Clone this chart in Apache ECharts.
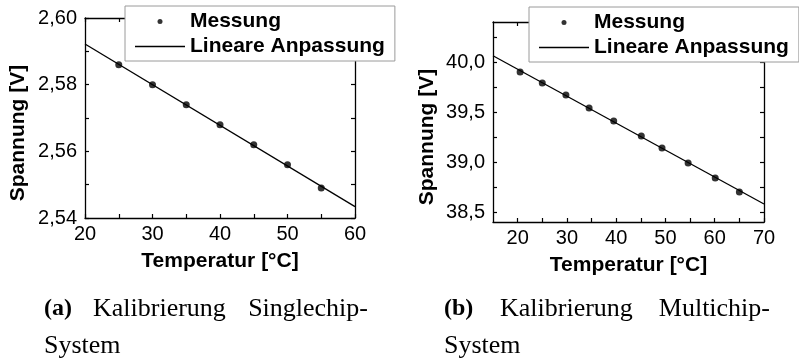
<!DOCTYPE html>
<html>
<head>
<meta charset="utf-8">
<script src="https://cdn.jsdelivr.net/npm/echarts@6/dist/echarts.min.js"></script>
<style>
  html, body { margin: 0; padding: 0; background: #fff; }
  #chart { width: 799px; height: 361px; }
</style>
</head>
<body>
<div id="chart"></div>
<script>
// Singlechip-System: measured points and the fitted line (end points)
const tempSingle = [25, 30, 35, 40, 45, 50, 55];
const voltSingle = [2.586, 2.580, 2.574, 2.568, 2.562, 2.556, 2.549];
const fitTempSingle = [20, 60];
const fitVoltSingle = [2.5922, 2.5434];

// Multichip-System: measured points and the fitted line (end points)
const tempMulti = [20.5, 25, 29.8, 34.5, 39.5, 45.1, 49.3, 54.6, 60.1, 65];
const voltMulti = [39.90, 39.79, 39.67, 39.54, 39.41, 39.26, 39.14, 38.99, 38.84, 38.70];
const fitTempMulti = [15, 70];
const fitVoltMulti = [40.063, 38.58];

// Axis ranges, labelled (major) ticks and unlabelled (minor) ticks
const xRangeSingle = [20, 60];
const yRangeSingle = [2.54, 2.60];
const xMajorSingle = [20, 30, 40, 50, 60];
const xMinorSingle = [25, 35, 45, 55];
const yMajorSingle = [2.54, 2.56, 2.58, 2.60];
const yMinorSingle = [2.55, 2.57, 2.59];

const xRangeMulti = [15, 70];
const yRangeMulti = [38.4, 40.4];
const xMajorMulti = [20, 30, 40, 50, 60, 70];
const xMinorMulti = [25, 35, 45, 55, 65];
const yMajorMulti = [38.5, 39.0, 39.5, 40.0];
const yMinorMulti = [38.75, 39.25, 39.75, 40.25];

// Texts
const seriesNames = ['Messung', 'Lineare Anpassung'];
const xTitle = 'Temperatur [°C]';
const yTitle = 'Spannung [V]';
const captionA = ['(a)', 'Kalibrierung', 'Singlechip-', 'System'];
const captionB = ['(b)', 'Kalibrierung', 'Multichip-', 'System'];

const SANS = '"Liberation Sans", Arial, Helvetica, sans-serif';
const SERIF = '"Liberation Serif", "Times New Roman", serif';

const comma = (v, d) => v.toFixed(d).replace('.', ',');

// Two axes per dimension: the labelled one and the plain frame side opposite to it
function axisPair(dim, gridIndex, range, major, minor, fmt, name, nameGap, namePad) {
  const sides = dim === 'x' ? ['bottom', 'top'] : ['left', 'right'];
  const tickVals = major.concat(minor).sort((a, b) => a - b);
  return sides.map((pos, i) => ({
    type: 'value',
    gridIndex: gridIndex,
    position: pos,
    min: range[0],
    max: range[1],
    axisLine: { show: true, onZero: false, lineStyle: { color: '#000', width: 1.3 } },
    axisTick: {
      show: true, inside: true, length: 4,
      customValues: tickVals,
      lineStyle: { color: '#000', width: 1.2 }
    },
    axisLabel: i === 0 ? {
      show: true,
      customValues: major,
      formatter: fmt,
      margin: dim === 'x' ? 6 : 8,
      fontSize: 20,
      color: '#000',
      fontFamily: SANS
    } : { show: false },
    splitLine: { show: false },
    name: i === 0 ? name : '',
    nameLocation: 'middle',
    nameGap: nameGap,
    nameTextStyle: {
      fontSize: 21, fontWeight: 'bold', color: '#000', fontFamily: SANS,
      padding: namePad
    }
  }));
}

const grids = [
  { left: 85, top: 18, width: 270, height: 200 },
  { left: 493, top: 22, width: 271, height: 200 }
];

const xAxes = [].concat(
  axisPair('x', 0, xRangeSingle, xMajorSingle, xMinorSingle, v => String(v), xTitle, 33, 0),
  axisPair('x', 1, xRangeMulti, xMajorMulti, xMinorMulti, v => String(v), xTitle, 33, 0)
);
const yAxes = [].concat(
  axisPair('y', 0, yRangeSingle, yMajorSingle, yMinorSingle, v => comma(v, 2), yTitle, 56, [0, 30, 0, 0]),
  axisPair('y', 1, yRangeMulti, yMajorMulti, yMinorMulti, v => comma(v, 1), yTitle, 55, [0, 30, 0, 0])
);

const zip = (a, b) => a.map((v, i) => [v, b[i]]);

function seriesFor(axisIndex, temps, volts, fitT, fitV) {
  return [
    {
      name: seriesNames[0], type: 'scatter',
      xAxisIndex: axisIndex, yAxisIndex: axisIndex,
      data: zip(temps, volts),
      symbol: 'circle', symbolSize: 7,
      itemStyle: { color: '#000' },
      z: 3
    },
    {
      name: seriesNames[1], type: 'line',
      xAxisIndex: axisIndex, yAxisIndex: axisIndex,
      data: zip(fitT, fitV),
      symbol: 'none',
      lineStyle: { color: '#000', width: 1.3 },
      itemStyle: { color: '#000' },
      z: 2
    }
  ];
}

function legendAt(left, top) {
  return {
    left: left, top: top,
    orient: 'vertical',
    selectedMode: false,
    data: [
      { name: seriesNames[0], icon: 'circle' },
      { name: seriesNames[1], icon: 'path://M0,0H50V1.3H0Z' }
    ],
    itemWidth: 50, itemHeight: 5, itemGap: 4,
    padding: [5, 10, 4, 10],
    backgroundColor: '#fff',
    borderColor: '#9a9a9a', borderWidth: 1, borderRadius: 0,
    textStyle: { fontSize: 21, fontWeight: 'bold', color: '#000', fontFamily: SANS, lineHeight: 21 },
    z: 10
  };
}

function caption(words, x0, x1, xEnd, y1, y2) {
  const base = { fill: '#000', verticalAlign: 'middle' };
  return [
    { type: 'text', x: x0, y: y1, style: Object.assign({ text: words[0], font: 'bold 24px ' + SERIF, align: 'left' }, base) },
    { type: 'text', x: x1, y: y1, style: Object.assign({ text: words[1], font: '26px ' + SERIF, align: 'left' }, base) },
    { type: 'text', x: xEnd, y: y1, style: Object.assign({ text: words[2], font: '26px ' + SERIF, align: 'right' }, base) },
    { type: 'text', x: x0, y: y2, style: Object.assign({ text: words[3], font: '26px ' + SERIF, align: 'left' }, base) }
  ];
}

const chart = echarts.init(document.getElementById('chart'), null, { renderer: 'canvas' });
chart.setOption({
  animation: false,
  backgroundColor: '#fff',
  grid: grids,
  xAxis: xAxes,
  yAxis: yAxes,
  legend: [legendAt(125, 6), legendAt(529, 7)],
  series: [].concat(
    seriesFor(0, tempSingle, voltSingle, fitTempSingle, fitVoltSingle),
    seriesFor(2, tempMulti, voltMulti, fitTempMulti, fitVoltMulti)
  ),
  graphic: [].concat(
    caption(captionA, 44, 93, 368, 309, 346),
    caption(captionB, 444, 500, 770, 309, 346)
  )
});
</script>
</body>
</html>
